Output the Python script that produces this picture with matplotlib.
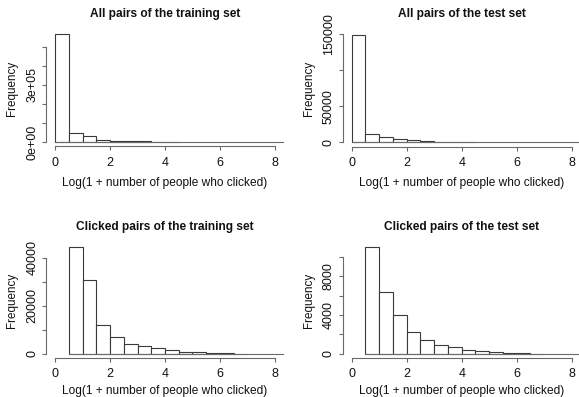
import numpy as np
import matplotlib
matplotlib.use('Agg')
import matplotlib.pyplot as plt

plt.rcParams['font.family'] = ['Liberation Sans', 'DejaVu Sans']

# histogram bins (left edges, width 0.5) and counts
bin_width = 0.5
all_train_left = np.arange(0, 4.5, 0.5)
all_train_counts = [567000, 46000, 31000, 12500, 7000, 4200, 3000, 2200, 1400]
all_test_left = np.arange(0, 4.5, 0.5)
all_test_counts = [149500, 11100, 7400, 4600, 2800, 1600, 1000, 650, 420]
click_train_left = np.arange(0.5, 7.0, 0.5)
click_train_counts = [44400, 30800, 12100, 7100, 4200, 3050, 2200, 1400, 800,
                      550, 400, 150, 100]
click_test_left = np.arange(0.5, 7.0, 0.5)
click_test_counts = [11000, 6400, 4000, 2280, 1450, 930, 660, 410, 240,
                     140, 100, 30, 20]

titles = ['All pairs of the training set', 'All pairs of the test set',
          'Clicked pairs of the training set', 'Clicked pairs of the test set']
yticks = [np.arange(0, 500001, 100000), np.arange(0, 150001, 50000),
          np.arange(0, 40001, 10000), np.arange(0, 10001, 2000)]
ylabels_shown = [['0e+00', '', '', '3e+05', '', ''],
                 ['0', '50000', '', '150000'],
                 ['0', '', '20000', '', '40000'],
                 ['0', '', '4000', '', '8000', '']]
xlabel = 'Log(1 + number of people who clicked)'

data = [(all_train_left, all_train_counts), (all_test_left, all_test_counts),
        (click_train_left, click_train_counts), (click_test_left, click_test_counts)]

W, H = 579, 397
fig = plt.figure(figsize=(W / 100, H / 100), dpi=100)

# plot regions in pixels: (left, top, width, height)
regions = [(46.2, 29.7, 237.6, 116.6), (342.9, 30.5, 237.6, 116.2),
           (46.2, 243.0, 237.6, 115.0), (342.9, 243.0, 237.6, 115.0)]

edge = '#3a3a3a'
axcol = '#6a6a6a'
txt = '#111111'
for i, (left, counts) in enumerate(data):
    l, t, w, h = regions[i]
    ax = fig.add_axes([l / W, 1 - (t + h) / H, w / W, h / H])
    ax.bar(left, counts, width=bin_width, align='edge', facecolor='white',
           edgecolor=edge, linewidth=0.8)
    ax.set_xlim(-0.32, 8.32)
    ymax = max(counts)
    ax.set_ylim(-0.04 * ymax, 1.04 * ymax)
    ax.hlines(0, left[0], 8.32, color=axcol, linewidth=0.8)
    for s in ['top', 'right']:
        ax.spines[s].set_visible(False)
    ax.spines['left'].set_bounds(yticks[i][0], yticks[i][-1])
    ax.spines['bottom'].set_bounds(0, 8)
    for s in ['left', 'bottom']:
        ax.spines[s].set_color(axcol)
        ax.spines[s].set_linewidth(0.8)
    ax.set_xticks([0, 2, 4, 6, 8])
    ax.set_yticks(yticks[i])
    ax.set_yticklabels(ylabels_shown[i], rotation=90, va='center')
    ax.tick_params(length=3.2, width=0.8, color=axcol, labelsize=9,
                   labelcolor=txt)
    ax.tick_params(axis='x', pad=4.2)
    ax.tick_params(axis='y', pad=2.5)
    ax.set_title(titles[i], fontsize=8.6, fontweight='bold', pad=9.5, color=txt)
    ax.set_xlabel(xlabel, fontsize=8.6, labelpad=6 if i < 2 else 3.5, color=txt)
    ax.set_ylabel('Frequency', fontsize=8.4, labelpad=6, color=txt)

fig.savefig('out.png', dpi=100)
